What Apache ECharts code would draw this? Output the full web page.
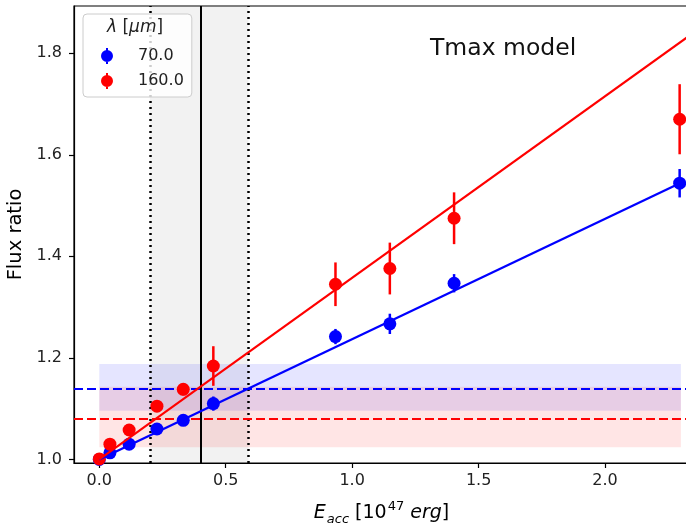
<!DOCTYPE html>
<html>
<head>
<meta charset="utf-8">
<script src="https://cdn.jsdelivr.net/npm/echarts@6/dist/echarts.min.js"></script>
<style>html,body{margin:0;padding:0;background:#fff;}#c{width:686px;height:527px;}</style>
</head>
<body>
<div id="c"></div>
<script>
// ---- data ----
const eAcc = [0, 0.042, 0.118, 0.228, 0.332, 0.451, 0.934, 1.149, 1.403, 2.295];
const ratio70 = [1.0, 1.013, 1.030, 1.060, 1.077, 1.110, 1.242, 1.267, 1.347, 1.544];
const err70 = [0.002, 0.004, 0.005, 0.006, 0.007, 0.014, 0.015, 0.020, 0.018, 0.028];
const ratio160 = [1.001, 1.030, 1.058, 1.105, 1.138, 1.184, 1.345, 1.376, 1.475, 1.670];
const err160 = [0.003, 0.006, 0.008, 0.010, 0.012, 0.039, 0.043, 0.051, 0.051, 0.069];
const fit70 = [[0, 1.0], [2.3, 1.545]];
const fit160 = [[0, 1.0], [2.332, 1.834]];
const level70 = 1.142, band70 = [1.096, 1.188];
const level160 = 1.085, band160 = [1.024, 1.143];
const bandX = [0, 2.3];
const eSolid = 0.395, eRange = [0.2, 0.59];
const xTicks = [0, 0.5, 1.0, 1.5, 2.0];
const yTicks = [1.0, 1.2, 1.4, 1.6, 1.8];
const seriesNames = ['70.0', '160.0'];
const annotation = 'Tmax model';

const FONT = '"DejaVu Sans", sans-serif';
const BLUE = '#0000ff', RED = '#ff0000';

function pts(xs, ys) { return xs.map((x, i) => [x, ys[i]]); }
function errPts(xs, ys, es) { return xs.map((x, i) => [x, ys[i], es[i]]); }
function errRender(color) {
  return function (params, api) {
    const x = api.value(0), y = api.value(1), e = api.value(2);
    const p1 = api.coord([x, y - e]);
    const p2 = api.coord([x, y + e]);
    return { type: 'line', shape: { x1: p1[0], y1: p1[1], x2: p2[0], y2: p2[1] },
      style: { stroke: color, lineWidth: 2.5 } };
  };
}
const icon = 'path://M5,0h2v16h-2z M0,8a6,6 0 1,1 12,0a6,6 0 1,1 -12,0z';

const chart = echarts.init(document.getElementById('c'), null, { renderer: 'canvas' });
chart.setOption({
  animation: false,
  backgroundColor: '#fff',
  grid: { left: 74, top: 6, right: -3, bottom: 64, show: true, borderColor: '#000', borderWidth: 1.2, outerBoundsMode: 'none', containLabel: false },
  xAxis: {
    type: 'value', min: -0.1, max: 2.332,
    axisLine: { show: true, onZero: false, lineStyle: { color: '#000', width: 1.2 } },
    axisTick: { show: true, customValues: xTicks, length: 5, lineStyle: { color: '#000', width: 1.2 } },
    axisLabel: { customValues: xTicks, formatter: v => v.toFixed(1), fontSize: 16, fontFamily: FONT, color: '#222', margin: 10 },
    splitLine: { show: false },
    name: '{i|E}{sub|acc}{n| [10}{sup|47}{n| }{i|erg}{n|]}',
    nameLocation: 'middle', nameGap: 37,
    nameTextStyle: {
      fontFamily: FONT, fontSize: 19, color: '#000',
      rich: {
        n: { fontFamily: FONT, fontSize: 19, lineHeight: 26, verticalAlign: 'middle' },
        i: { fontFamily: FONT, fontSize: 19, fontStyle: 'italic', lineHeight: 26, verticalAlign: 'middle' },
        sub: { fontFamily: FONT, fontSize: 13, fontStyle: 'italic', lineHeight: 26, verticalAlign: 'bottom', padding: [0, 0, 0, 1] },
        sup: { fontFamily: FONT, fontSize: 13, lineHeight: 26, verticalAlign: 'top', padding: [0, 0, 0, 1] }
      }
    }
  },
  yAxis: {
    type: 'value', min: 0.993, max: 1.893,
    axisLine: { show: true, onZero: false, lineStyle: { color: '#000', width: 1.2 } },
    axisTick: { show: true, customValues: yTicks, length: 5, lineStyle: { color: '#000', width: 1.2 } },
    axisLabel: { customValues: yTicks, formatter: v => v.toFixed(1), fontSize: 16, fontFamily: FONT, color: '#222', margin: 12 },
    splitLine: { show: false },
    name: 'Flux ratio', nameLocation: 'middle', nameGap: 47,
    nameTextStyle: { fontFamily: FONT, fontSize: 19.5, color: '#000' }
  },
  legend: {
    left: 83, top: 14, orient: 'vertical', z: 50,
    data: [{ name: seriesNames[0], icon: icon }, { name: seriesNames[1], icon: icon }],
    itemWidth: 12, itemHeight: 16, itemGap: 9,
    padding: [34, 8, 8, 18],
    backgroundColor: 'rgba(255,255,255,0.8)', borderColor: '#cccccc', borderWidth: 1, borderRadius: 4,
    textStyle: { fontFamily: FONT, fontSize: 16, color: '#222', padding: [0, 0, 0, 20] },
    selectedMode: false
  },
  graphic: [
    { type: 'text', left: 107, top: 19, z: 100,
      style: { text: '{i|λ}{n| [}{i|μm}{n|]}', fontFamily: FONT, fontSize: 17, fill: '#222',
        rich: { i: { fontFamily: FONT, fontSize: 17, fontStyle: 'italic', fill: '#222' }, n: { fontFamily: FONT, fontSize: 17, fill: '#222' } } } },
    { type: 'text', left: 430, top: 37, z: 100,
      style: { text: annotation, fontFamily: FONT, fontSize: 23.5, fill: '#111' } }
  ],
  series: [
    {
      name: 'bands', type: 'line', data: [], silent: true, z: 1,
      markArea: {
        silent: true,
        data: [
          [{ xAxis: eRange[0], itemStyle: { color: 'rgba(128,128,128,0.1)' } }, { xAxis: eRange[1] }],
          [{ xAxis: bandX[0], yAxis: band70[0], itemStyle: { color: 'rgba(0,0,255,0.1)' } }, { xAxis: bandX[1], yAxis: band70[1] }],
          [{ xAxis: bandX[0], yAxis: band160[0], itemStyle: { color: 'rgba(255,0,0,0.1)' } }, { xAxis: bandX[1], yAxis: band160[1] }]
        ]
      },
      markLine: {
        silent: true, symbol: 'none', label: { show: false }, z: 1,
        data: [
          { xAxis: eRange[0], lineStyle: { color: '#000', width: 2.5, type: [2, 4] } },
          { xAxis: eRange[1], lineStyle: { color: '#000', width: 2.5, type: [2, 4] } },
          { xAxis: eSolid, lineStyle: { color: '#000', width: 2, type: 'solid' } },
          { yAxis: level70, lineStyle: { color: BLUE, width: 2, type: [9, 4] } },
          { yAxis: level160, lineStyle: { color: RED, width: 2, type: [9, 4] } }
        ]
      }
    },
    { name: 'fit70', type: 'line', data: fit70, showSymbol: false, lineStyle: { color: BLUE, width: 2.3 }, silent: true },
    { name: 'err70', type: 'custom', data: errPts(eAcc, ratio70, err70), renderItem: errRender(BLUE), silent: true },
    { name: seriesNames[0], type: 'scatter', data: pts(eAcc, ratio70), symbolSize: 13, itemStyle: { color: BLUE, opacity: 1 } },
    { name: 'fit160', type: 'line', data: fit160, showSymbol: false, lineStyle: { color: RED, width: 2.1 }, silent: true },
    { name: 'err160', type: 'custom', data: errPts(eAcc, ratio160, err160), renderItem: errRender(RED), silent: true },
    { name: seriesNames[1], type: 'scatter', data: pts(eAcc, ratio160), symbolSize: 13, itemStyle: { color: RED, opacity: 1 } }
  ]
});
</script>
</body>
</html>
